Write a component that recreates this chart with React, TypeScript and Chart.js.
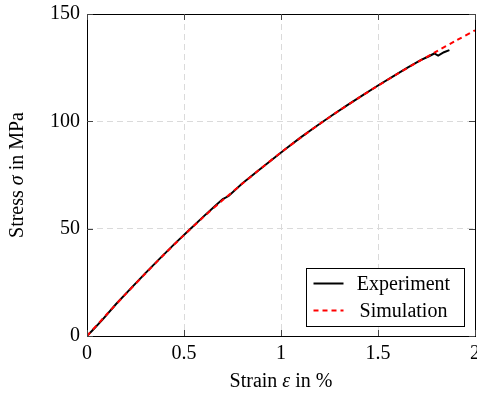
import { useEffect, useRef } from "react";
import { Chart, registerables } from "chart.js";

Chart.register(...registerables);

// ---- data ----
const strainExp = [0, 0.03, 0.08, 0.15, 0.22, 0.3, 0.38, 0.45, 0.52, 0.6, 0.66, 0.7, 0.73, 0.8, 0.88, 0.95, 1.02, 1.1, 1.18, 1.26, 1.34, 1.42, 1.5, 1.58, 1.65, 1.72, 1.76, 1.79, 1.81, 1.84, 1.868];
const stressExp = [0, 2.8, 7.6, 14.9, 21.6, 29.2, 36.5, 42.8, 48.8, 55.6, 60.6, 63.8, 65.2, 71.0, 76.9, 81.9, 86.9, 92.4, 97.6, 102.6, 107.4, 112.1, 116.7, 121.1, 124.9, 128.5, 130.2, 131.6, 130.6, 132.2, 133.2];

const strainSim = [0, 0.1, 0.2, 0.3, 0.4, 0.5, 0.6, 0.7, 0.8, 0.9, 1.0, 1.1, 1.2, 1.3, 1.4, 1.5, 1.6, 1.7, 1.8, 1.9, 2.0];
const stressSim = [0, 9.9, 19.6, 29.0, 38.2, 47.0, 55.4, 63.3, 70.9, 78.3, 85.5, 92.3, 98.8, 105.0, 110.9, 116.6, 122.1, 127.4, 132.5, 137.5, 142.4];

const seriesNames = ["Experiment", "Simulation"];
const xTicks = [0, 0.5, 1, 1.5, 2];
const yTicks = [0, 50, 100, 150];
const xTitleParts = ["Strain ", "ε", " in %"];
const yTitleParts = ["Stress ", "σ", " in MPa"];

const FONT = '"Liberation Serif", "Times New Roman", serif';
const FS = 20;

function drawParts(ctx: CanvasRenderingContext2D, parts: string[], cx: number, cy: number) {
  const fonts = parts.map((_, i) => (i === 1 ? `italic ${FS}px ${FONT}` : `${FS}px ${FONT}`));
  let total = 0;
  const widths = parts.map((p, i) => {
    ctx.font = fonts[i];
    const w = ctx.measureText(p).width;
    total += w;
    return w;
  });
  let x = cx - total / 2;
  ctx.textBaseline = "middle";
  ctx.textAlign = "left";
  ctx.fillStyle = "#000";
  parts.forEach((p, i) => {
    ctx.font = fonts[i];
    ctx.fillText(p, x, cy);
    x += widths[i];
  });
}

const decorPlugin = {
  id: "decor",
  afterDatasetsDraw(chart: any) {
    const ctx: CanvasRenderingContext2D = chart.ctx;
    const a = chart.chartArea;
    const xs = chart.scales.x;
    const ys = chart.scales.y;
    ctx.save();
    // frame
    ctx.strokeStyle = "#000";
    ctx.lineWidth = 1;
    ctx.setLineDash([]);
    ctx.strokeRect(Math.round(a.left) + 0.5, Math.round(a.top) + 0.5, Math.round(a.right - a.left), Math.round(a.bottom - a.top));
    // inward ticks
    ctx.strokeStyle = "#444";
    const tl = 6;
    ctx.beginPath();
    xTicks.forEach((v) => {
      const px = Math.round(xs.getPixelForValue(v)) + 0.5;
      ctx.moveTo(px, a.bottom);
      ctx.lineTo(px, a.bottom - tl);
      ctx.moveTo(px, a.top);
      ctx.lineTo(px, a.top + tl);
    });
    yTicks.forEach((v) => {
      const py = Math.round(ys.getPixelForValue(v)) + 0.5;
      ctx.moveTo(a.left, py);
      ctx.lineTo(a.left + tl, py);
      ctx.moveTo(a.right, py);
      ctx.lineTo(a.right - tl, py);
    });
    ctx.stroke();

    // legend
    const bw = 158;
    const bh = 58;
    const bx = Math.round(a.right - 11 - bw) + 0.5;
    const by = Math.round(a.bottom - 10 - bh) + 0.5;
    ctx.fillStyle = "#fff";
    ctx.fillRect(bx, by, bw, bh);
    ctx.strokeStyle = "#000";
    ctx.lineWidth = 1;
    ctx.strokeRect(bx, by, bw, bh);
    const rows = [by + 15, by + 42];
    chart.data.datasets.forEach((ds: any, i: number) => {
      ctx.beginPath();
      ctx.strokeStyle = ds.borderColor;
      ctx.lineWidth = ds.borderWidth;
      ctx.setLineDash(ds.borderDash || []);
      ctx.moveTo(bx + 7, rows[i]);
      ctx.lineTo(bx + 37, rows[i]);
      ctx.stroke();
      ctx.setLineDash([]);
      ctx.fillStyle = "#000";
      ctx.font = `${FS}px ${FONT}`;
      ctx.textAlign = "center";
      ctx.textBaseline = "middle";
      ctx.fillText(ds.label, bx + 97, rows[i] + 1);
    });

    // axis titles
    drawParts(ctx, xTitleParts, (a.left + a.right) / 2, 382);
    ctx.translate(18, (a.top + a.bottom) / 2);
    ctx.rotate(-Math.PI / 2);
    drawParts(ctx, yTitleParts, 0, 0);
    ctx.restore();
  },
};

function fitScale(size: number, horizontal: boolean) {
  return (scale: any) => {
    if (horizontal) scale.height = size;
    else scale.width = size;
    scale.paddingLeft = 0;
    scale.paddingRight = 0;
    scale.paddingTop = 0;
    scale.paddingBottom = 0;
  };
}

const gridColor = (max: number) => (c: any) =>
  c.tick && (c.tick.value === 0 || c.tick.value === max) ? "rgba(0,0,0,0)" : "#dadada";

export default function App() {
  const ref = useRef<HTMLCanvasElement>(null);
  useEffect(() => {
    if (!ref.current) return;
    const chart = new Chart(ref.current, {
      type: "line",
      data: {
        datasets: [
          {
            label: seriesNames[0],
            data: strainExp.map((x, i) => ({ x, y: stressExp[i] })),
            borderColor: "#000",
            borderWidth: 2,
            pointRadius: 0,
            tension: 0,
            fill: false,
            order: 2,
          },
          {
            label: seriesNames[1],
            data: strainSim.map((x, i) => ({ x, y: stressSim[i] })),
            borderColor: "#ff0000",
            borderWidth: 2,
            borderDash: [5, 4],
            pointRadius: 0,
            tension: 0.3,
            fill: false,
            order: 1,
          },
        ],
      },
      options: {
        animation: false,
        responsive: false,
        layout: { padding: { top: 14, right: 2, left: 0, bottom: 0 } },
        plugins: { legend: { display: false }, tooltip: { enabled: false } },
        scales: {
          x: {
            type: "linear",
            min: 0,
            max: 2,
            afterFit: fitScale(58, true),
            afterBuildTicks: (s: any) => {
              s.ticks = xTicks.map((v) => ({ value: v }));
            },
            ticks: { padding: 6, color: "#000", font: { family: FONT, size: FS }, maxRotation: 0, callback: (v: any) => String(v) },
            grid: { color: gridColor(2), drawTicks: false, lineWidth: 1 },
            border: { display: false, dash: [6, 4] },
          },
          y: {
            type: "linear",
            min: 0,
            max: 150,
            afterFit: fitScale(87, false),
            afterBuildTicks: (s: any) => {
              s.ticks = yTicks.map((v) => ({ value: v }));
            },
            ticks: { padding: 7, color: "#000", font: { family: FONT, size: FS }, callback: (v: any) => String(v) },
            grid: { color: gridColor(150), drawTicks: false, lineWidth: 1 },
            border: { display: false, dash: [6, 4] },
          },
        },
      },
      plugins: [decorPlugin],
    } as any);
    return () => chart.destroy();
  }, []);
  return (
    <div style={{ position: "fixed", left: 0, top: 0, width: 477, height: 394, background: "#fff" }}>
      <canvas ref={ref} width={477} height={394} style={{ display: "block" }} />
    </div>
  );
}
